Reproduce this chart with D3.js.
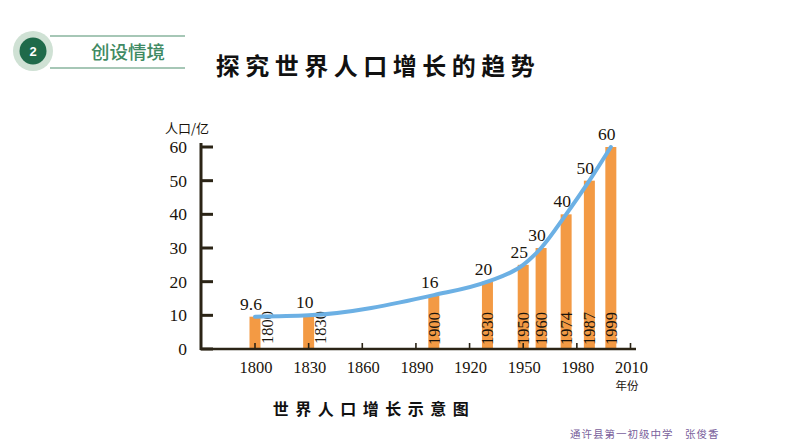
<!DOCTYPE html>
<html><head><meta charset="utf-8">
<script src="https://cdn.jsdelivr.net/npm/d3@7"></script>
<style>
html,body{margin:0;padding:0;background:#fff;}
svg{display:block;}
</style></head>
<body>
<script>
const years = [1800, 1830, 1900, 1930, 1950, 1960, 1974, 1987, 1999];
const population = [9.6, 10, 16, 20, 25, 30, 40, 50, 60];
const valueLabels = ["9.6", "10", "16", "20", "25", "30", "40", "50", "60"];
const xTicks = [1800, 1830, 1860, 1890, 1920, 1950, 1980, 2010];
const yTicks = [0, 10, 20, 30, 40, 50, 60];
const title = "探究世界人口增长的趋势";
const sectionLabel = "创设情境";
const caption = "世界人口增长示意图";
const footer = "通许县第一初级中学　张俊香";

const W = 794, H = 447;
const svg = d3.select("body").append("svg").attr("width", W).attr("height", H);

const x = d3.scaleLinear().domain([1800, 2010]).range([255, 630.5]);
const y = d3.scaleLinear().domain([0, 60]).range([349, 147]);
const serif = "'Liberation Serif','DejaVu Serif',serif";
const cjk = "'Noto Sans CJK SC','Noto Sans CJK JP',sans-serif";
const axisColor = "#2b2416";

// Header
svg.append("circle").attr("cx", 33).attr("cy", 51).attr("r", 20).attr("fill", "#cfe1d4");
svg.append("circle").attr("cx", 33).attr("cy", 51).attr("r", 13.5).attr("fill", "#1f6a4a");
svg.append("text").attr("x", 33).attr("y", 56).attr("text-anchor", "middle")
  .attr("font-family", "'Liberation Sans',sans-serif").attr("font-weight", "bold")
  .attr("font-size", 13).attr("fill", "#fff").text("2");
[36, 68].forEach(yy => svg.append("line").attr("x1", 50).attr("x2", 185)
  .attr("y1", yy).attr("y2", yy).attr("stroke", "#4e8f6e").attr("stroke-width", 1.2));
svg.append("text").attr("x", 128).attr("y", 59).attr("text-anchor", "middle")
  .attr("font-family", cjk).attr("font-weight", "500").attr("font-size", 18.5).attr("fill", "#3f8a63").text(sectionLabel);

svg.append("text").attr("x", 378).attr("y", 75).attr("text-anchor", "middle")
  .attr("font-family", cjk).attr("font-weight", "bold").attr("font-size", 24)
  .attr("letter-spacing", 5.5).attr("fill", "#111").text(title);

// Bars
const bw = 11;
svg.append("g").selectAll("rect").data(years).join("rect")
  .attr("x", d => x(d) - bw / 2).attr("width", bw)
  .attr("y", (d, i) => y(population[i]))
  .attr("height", (d, i) => y(0) - y(population[i]))
  .attr("fill", "#f39a44");

// Year labels in / beside bars
svg.append("g").selectAll("text").data(years).join("text")
  .attr("transform", (d, i) => {
    const beside = population[i] < 12;
    const cx = x(d) + (beside ? 17.5 : 6);
    return `translate(${cx},${beside ? 344 : 345}) rotate(-90)`;
  })
  .attr("font-family", serif).attr("font-size", 16.5).attr("fill", "#1a140c")
  .text(d => d);

// Axes
const gx = svg.append("g");
gx.append("line").attr("x1", 200).attr("x2", 636).attr("y1", y(0)).attr("y2", y(0))
  .attr("stroke", axisColor).attr("stroke-width", 2.6);
gx.selectAll("line.t").data(xTicks).join("line").attr("class", "t")
  .attr("x1", d => x(d)).attr("x2", d => x(d)).attr("y1", y(0)).attr("y2", y(0) - 6)
  .attr("stroke", axisColor).attr("stroke-width", 1.6);
gx.selectAll("text").data(xTicks).join("text")
  .attr("x", d => x(d) + 1).attr("y", 373).attr("text-anchor", "middle")
  .attr("font-family", serif).attr("font-size", 16.5).attr("fill", "#1a140c").text(d => d);
svg.append("text").attr("x", 627).attr("y", 390).attr("text-anchor", "middle")
  .attr("font-family", cjk).attr("font-size", 11.5).attr("fill", "#1a140c").text("年份");

const gy = svg.append("g");
gy.append("line").attr("x1", 201).attr("x2", 201).attr("y1", 143).attr("y2", y(0) + 1)
  .attr("stroke", axisColor).attr("stroke-width", 3);
gy.selectAll("line.t").data(yTicks).join("line").attr("class", "t")
  .attr("x1", 201).attr("x2", 213).attr("y1", d => y(d)).attr("y2", d => y(d))
  .attr("stroke", axisColor).attr("stroke-width", 3);
gy.selectAll("text").data(yTicks).join("text")
  .attr("x", 187).attr("y", d => y(d) + 6).attr("text-anchor", "end")
  .attr("font-family", serif).attr("font-size", 17.5).attr("fill", "#1a140c").text(d => d);
svg.append("text").attr("x", 187).attr("y", 133).attr("text-anchor", "middle")
  .attr("font-family", cjk).attr("font-size", 13).attr("fill", "#1a140c").text("人口/亿");

// Trend line
const line = d3.line().x((d, i) => x(d)).y((d, i) => y(population[i])).curve(d3.curveMonotoneX);
svg.append("path").datum(years).attr("d", line).attr("fill", "none")
  .attr("stroke", "#6cb0e4").attr("stroke-width", 4).attr("stroke-linecap", "round");

// Value labels
svg.append("g").selectAll("text").data(years).join("text")
  .attr("x", d => x(d) - 4).attr("y", (d, i) => y(population[i]) - 7)
  .attr("text-anchor", "middle").attr("font-family", serif).attr("font-size", 17.5)
  .attr("fill", "#1a140c").text((d, i) => valueLabels[i]);

// Caption
svg.append("text").attr("x", 374).attr("y", 415).attr("text-anchor", "middle")
  .attr("font-family", cjk).attr("font-weight", "bold").attr("font-size", 16)
  .attr("letter-spacing", 6.5).attr("fill", "#111").text(caption);

svg.append("text").attr("x", 570).attr("y", 438)
  .attr("font-family", cjk).attr("font-size", 10.5).attr("letter-spacing", 1)
  .attr("fill", "#7a5f9c").text(footer);
</script>
</body></html>
